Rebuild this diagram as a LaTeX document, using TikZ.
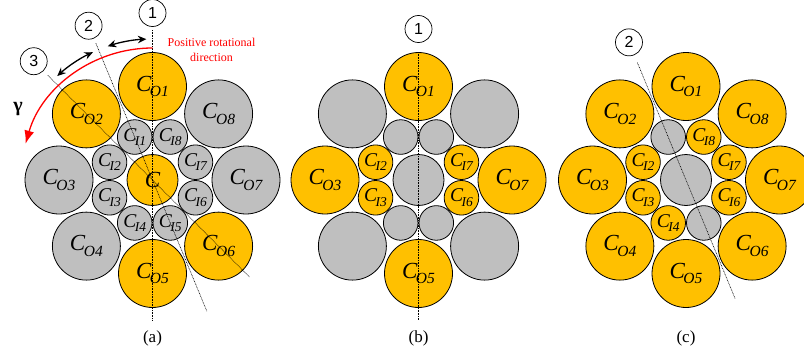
\documentclass[tikz,border=0pt]{standalone}
\usepackage{fontspec}
\setmainfont{Liberation Serif}
\newfontfamily\arialf{Liberation Sans}
\usetikzlibrary{arrows.meta}
\definecolor{cyel}{HTML}{FFC000}
\definecolor{cgry}{HTML}{BFBFBF}
\newcommand\olab[1]{{\fontsize{23pt}{23pt}\selectfont\itshape C\kern-1.5pt\raisebox{-5.5pt}{\fontsize{15.5pt}{15.5pt}\selectfont #1}}}
\newcommand\ilab[1]{{\fontsize{19.5pt}{19.5pt}\selectfont\itshape C\kern-1.5pt\raisebox{-4.5pt}{\fontsize{13.5pt}{13.5pt}\selectfont #1}}}
\newcommand\clab{{\fontsize{23pt}{23pt}\selectfont\itshape C}}
\tikzset{
 outerc/.style={circle, draw=black, line width=0.8pt, minimum size=68pt, inner sep=0pt},
 innerc/.style={circle, draw=black, line width=0.8pt, minimum size=34.6pt, inner sep=0pt},
 centc/.style={circle, draw=black, line width=0.8pt, minimum size=51pt, inner sep=0pt},
 axisline/.style={line width=0.6pt, dash pattern=on 0.8pt off 0.8pt},
 numc/.style={circle, draw=black, line width=0.7pt, fill=white, minimum size=27pt, inner sep=0pt, font=\arialf\fontsize{16pt}{16pt}\selectfont},
 dblarrow/.style={line width=1.3pt, {Stealth[length=8.5pt,width=7.5pt]}-{Stealth[length=8.5pt,width=7.5pt]}},
 captext/.style={font=\fontsize{17pt}{17pt}\selectfont},
}
\begin{document}
\begin{tikzpicture}[x=1pt,y=1pt]
\useasboundingbox (0,0) rectangle (804,360);
% ---------------- panel (a)
\begin{scope}[shift={(152.5,180)}]
 \foreach \k/\c in {1/cyel,2/cyel,3/cgry,4/cgry,5/cyel,6/cyel,7/cgry,8/cgry}
  \node[outerc, fill=\c] (a-o\k) at ({90+45*(\k-1)}:93.5) {\olab{O\k}};
 \foreach \k in {1,...,8}
  \node[innerc, fill=cgry] (a-i\k) at ({112.5+45*(\k-1)}:46.5) {\ilab{I\k}};
 \node[centc, fill=cyel] (a-c) at (0,0) {\clab};
 \coordinate (a-s1) at (90:150);   \coordinate (a-e1) at (270:140);
 \coordinate (a-s2) at (112.5:148); \coordinate (a-e2) at (292.5:142);
 \coordinate (a-s3) at (135:148);  \coordinate (a-e3) at (315:137);
 \draw[axisline] (a-s1) -- (a-e1);
 \draw[axisline] (a-s2) -- (a-e2);
 \draw[axisline] (a-s3) -- (a-e3);
 \node[numc] (a-n1) at (90:167) {1};
 \node[numc] (a-n2) at (112.5:167) {2};
 \node[numc] (a-n3) at (135:168) {3};
 \coordinate (a-r0) at (90:132);
 \draw[red, line width=1.3pt, -{Latex[length=13pt,width=10pt]}] (a-r0) arc[start angle=90, end angle=164, radius=132];
 \coordinate (a-d1) at (92.5:141);
 \coordinate (a-d2) at (115:141);
 \draw[dblarrow] (a-d1) arc[start angle=92.5, end angle=108.5, radius=141];
 \draw[dblarrow] (a-d2) arc[start angle=115, end angle=132.5, radius=141];
 \node[captext] (a-cap) at (0,-158) {(a)};
\end{scope}
\node[text=red, align=center, font=\fontsize{12pt}{15pt}\selectfont] (posdir) at (211.5,310.5) {Positive rotational\\direction};
\node[font=\bfseries\fontsize{20pt}{20pt}\selectfont] (gam) at (18,251) {γ};
% ---------------- panel (b)
\begin{scope}[shift={(418.5,180)}]
 \foreach \k/\c/\s in {1/cyel/1,2/cgry/0,3/cyel/1,4/cgry/0,5/cyel/1,6/cgry/0,7/cyel/1,8/cgry/0}
  \node[outerc, fill=\c] (b-o\k) at ({90+45*(\k-1)}:93.5) {\ifnum\s=1 \olab{O\k}\fi};
 \foreach \k/\c/\s in {1/cgry/0,2/cyel/1,3/cyel/1,4/cgry/0,5/cgry/0,6/cyel/1,7/cyel/1,8/cgry/0}
  \node[innerc, fill=\c] (b-i\k) at ({112.5+45*(\k-1)}:46.5) {\ifnum\s=1 \ilab{I\k}\fi};
 \node[centc, fill=cgry] (b-c) at (0,0) {};
 \coordinate (b-s1) at (90:128); \coordinate (b-e1) at (270:140);
 \draw[axisline] (b-s1) -- (b-e1);
 \node[numc] (b-n1) at (90:151) {1};
 \node[captext] (b-cap) at (0,-158) {(b)};
\end{scope}
% ---------------- panel (c)
\begin{scope}[shift={(686,180)}]
 \foreach \k in {1,...,8}
  \node[outerc, fill=cyel] (c-o\k) at ({90+45*(\k-1)}:93.5) {\olab{O\k}};
 \foreach \k/\c/\s in {1/cgry/0,2/cyel/1,3/cyel/1,4/cyel/1,5/cgry/0,6/cyel/1,7/cyel/1,8/cyel/1}
  \node[innerc, fill=\c] (c-i\k) at ({112.5+45*(\k-1)}:46.5) {\ifnum\s=1 \ilab{I\k}\fi};
 \node[centc, fill=cgry] (c-c) at (0,0) {};
 \coordinate (c-s2) at (112.5:127); \coordinate (c-e2) at (292.5:129);
 \draw[axisline] (c-s2) -- (c-e2);
 \node[numc] (c-n2) at (112.5:149) {2};
 \node[captext] (c-cap) at (0,-158) {(c)};
\end{scope}
\end{tikzpicture}
\end{document}
